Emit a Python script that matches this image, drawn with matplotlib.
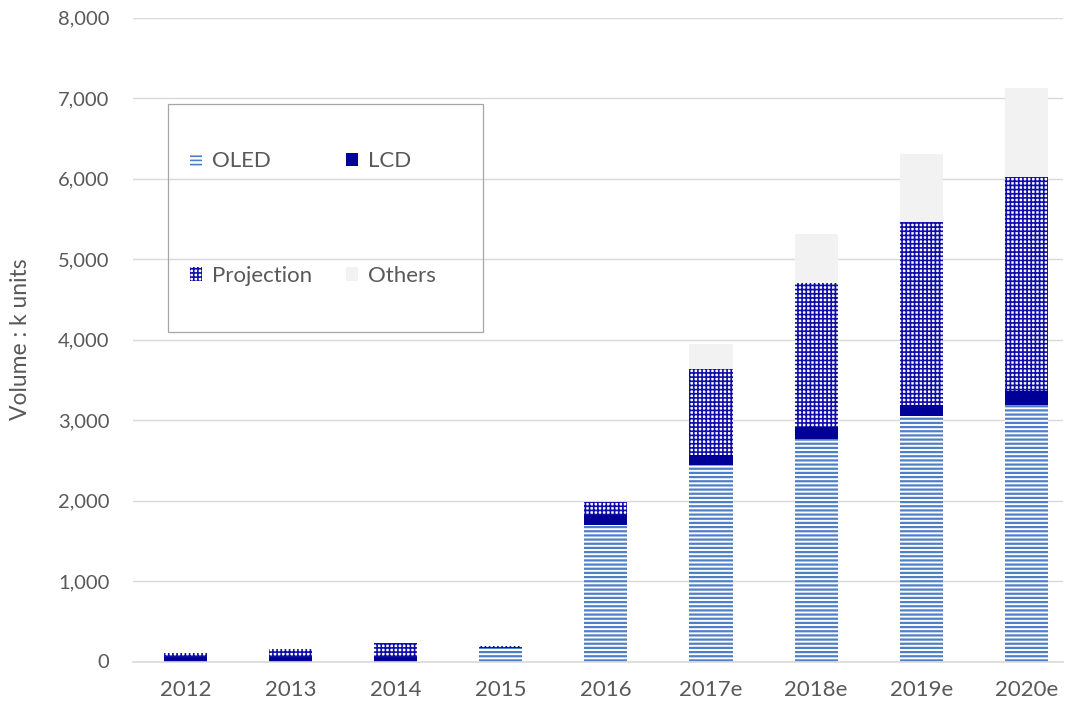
import numpy as np
import matplotlib
matplotlib.use("Agg")
import matplotlib.pyplot as plt
from matplotlib.patches import Rectangle

plt.rcParams['font.family'] = ['Lato', 'DejaVu Sans']

# data (k units)
years = ["2012", "2013", "2014", "2015", "2016", "2017e", "2018e", "2019e", "2020e"]
oled = [0, 0, 0, 170, 1700, 2445, 2770, 3050, 3190]
lcd = [55, 60, 55, 0, 125, 125, 145, 140, 170]
projection = [50, 100, 180, 20, 160, 1065, 1790, 2270, 2655]
others = [0, 0, 0, 0, 0, 310, 605, 845, 1105]

grey_text = '#595959'
grid_col = '#D9D9D9'

fig = plt.figure(figsize=(10.7, 7.06), dpi=100)
ax = fig.add_axes([133 / 1070, 44.5 / 706, 930 / 1070, 644 / 706])

x = np.arange(len(years))
w = 0.41

oled_a = np.array(oled)
lcd_a = np.array(lcd)
proj_a = np.array(projection)

plt.rcParams['hatch.linewidth'] = 1.6
b1 = ax.bar(x, oled, w, color='white', edgecolor='#4F7FC6', hatch='----',
            linewidth=0, label='OLED', zorder=3)
b2 = ax.bar(x, lcd, w, bottom=oled_a, color='#000099', linewidth=0,
            label='LCD', zorder=3)
plt.rcParams['hatch.linewidth'] = 1.2
b3 = ax.bar(x, projection, w, bottom=oled_a + lcd_a, color='white',
            edgecolor='#1010A8', hatch='++++', linewidth=0,
            label='Projection', zorder=3)
b4 = ax.bar(x, others, w, bottom=oled_a + lcd_a + proj_a, color='#F2F2F2',
            linewidth=0, label='Others', zorder=3)

ax.set_ylim(0, 8000)
ax.set_xlim(-0.5, 8.35)
ax.set_yticks(np.arange(0, 8001, 1000))
ax.yaxis.set_major_formatter(matplotlib.ticker.FuncFormatter(lambda v, p: f"{int(v):,}"))
ax.set_xticks(x)
ax.set_xticklabels(years)
ax.tick_params(axis='both', length=0, colors=grey_text)
ax.tick_params(axis='y', pad=17, labelsize=14.5)
ax.tick_params(axis='x', pad=13, labelsize=16)

ax.grid(axis='y', color=grid_col, linewidth=1, zorder=0)
for s in ['top', 'right', 'left']:
    ax.spines[s].set_visible(False)
ax.spines['bottom'].set_color(grid_col)
ax.spines['bottom'].set_linewidth(1.2)
ax.spines['bottom'].set_zorder(4)

ax.set_ylabel('Volume : k units', fontsize=16.5, color=grey_text)
ax.yaxis.set_label_coords((31 - 133) / 930, 0.5)

# legend: column 1 = OLED, Projection; column 2 = LCD, Others
leg = ax.legend([b1, b3, b2, b4], ['OLED', 'Projection', 'LCD', 'Others'],
                ncol=2, mode='expand', loc='upper left',
                bbox_to_anchor=(0.0613, 0.5, 0.2645, 0.292),
                frameon=False, borderpad=0, borderaxespad=0,
                fontsize=16, labelcolor=grey_text,
                handlelength=0.55, handleheight=0.55, handletextpad=0.45,
                labelspacing=4.25)
ax.add_patch(Rectangle((0.0376, 0.512), 0.339, 0.354, transform=ax.transAxes,
                       fill=False, edgecolor='#A6A6A6', linewidth=0.9,
                       zorder=5, clip_on=False))

fig.savefig('out.png', dpi=100)
